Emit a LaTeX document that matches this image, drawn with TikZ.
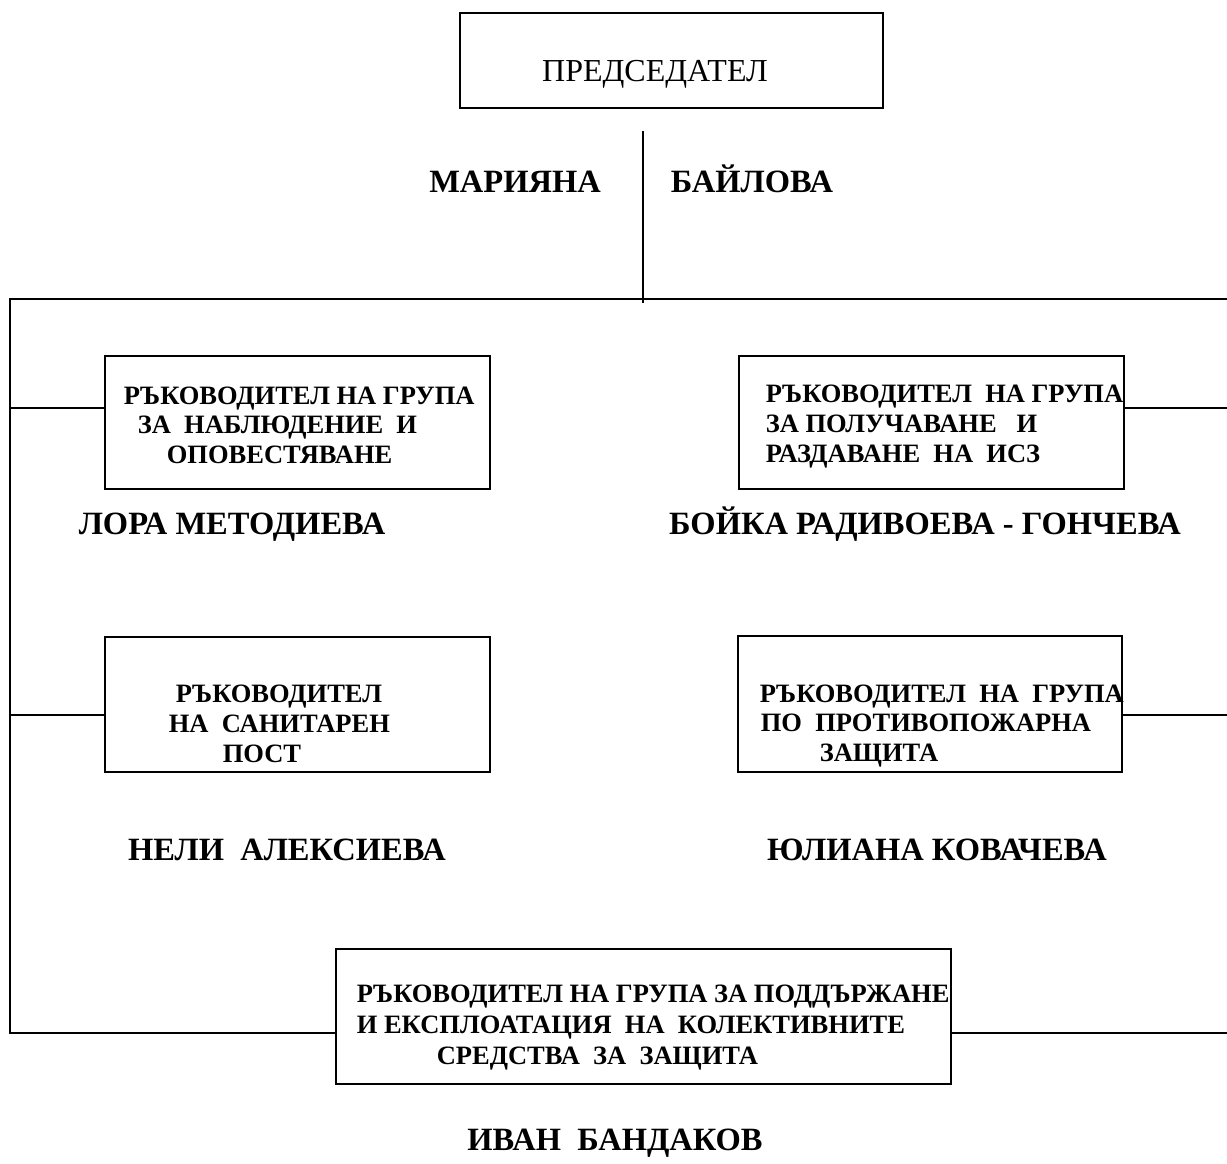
\documentclass[tikz,border=0pt]{standalone}
\usepackage{fontspec}
\setmainfont{Liberation Serif}[BoldFont={Liberation Serif Bold}]
\begin{document}
\begin{tikzpicture}[x=1pt,y=-1pt,
  line width=1.6pt,
  box/.style={draw, rectangle, inner sep=0pt, line width=1.8pt},
  boxtext/.style={anchor=base west, inner sep=0pt, font=\fontsize{26.5}{30}\selectfont\bfseries},
  nametext/.style={anchor=base, inner sep=0pt, font=\fontsize{32.5}{38}\selectfont\bfseries},
  chairtext/.style={anchor=base, inner sep=0pt, font=\fontsize{32}{38}\selectfont}]
\useasboundingbox (0,0) rectangle (1227,1163);
\fill[white] (0,0) rectangle (1227,1163);

% boxes
\node[box, minimum width=423pt, minimum height=95pt] (top) at (671.5,60.5) {};
\node[box, minimum width=385pt, minimum height=133pt] (b1) at (297.5,422.5) {};
\node[box, minimum width=385pt, minimum height=133pt] (b2) at (931.5,422.5) {};
\node[box, minimum width=385pt, minimum height=135pt] (b3) at (297.5,704.5) {};
\node[box, minimum width=384pt, minimum height=136pt] (b4) at (930,704) {};
\node[box, minimum width=615pt, minimum height=135pt] (b5) at (643.5,1016.5) {};

% texts
\node[chairtext] (tchair) at (655,81) {ПРЕДСЕДАТЕЛ};
\node[nametext] (n0a) at (515,192) {МАРИЯНА};
\node[nametext] (n0b) at (752,192) {БАЙЛОВА};

\node[boxtext] (b1l1) at (123,404) {РЪКОВОДИТЕЛ НА ГРУПА};
\node[boxtext] (b1l2) at (137,433) {ЗА~~НАБЛЮДЕНИЕ~~И};
\node[boxtext] (b1l3) at (166,463) {ОПОВЕСТЯВАНЕ};

\node[boxtext] (b2l1) at (765,402) {РЪКОВОДИТЕЛ~~НА ГРУПА};
\node[boxtext] (b2l2) at (765,432) {ЗА ПОЛУЧАВАНЕ~~~И};
\node[boxtext] (b2l3) at (765,462) {РАЗДАВАНЕ~~НА~~ИСЗ};

\node[boxtext] (b3l1) at (175,702) {РЪКОВОДИТЕЛ};
\node[boxtext] (b3l2) at (168,732) {НА~~САНИТАРЕН};
\node[boxtext] (b3l3) at (222,762) {ПОСТ};

\node[boxtext] (b4l1) at (759,702) {РЪКОВОДИТЕЛ~~НА~~ГРУПА};
\node[boxtext] (b4l2) at (760,731) {ПО~~ПРОТИВОПОЖАРНА};
\node[boxtext] (b4l3) at (819,761) {ЗАЩИТА};

\node[boxtext] (b5l1) at (356,1002) {РЪКОВОДИТЕЛ НА ГРУПА ЗА ПОДДЪРЖАНЕ};
\node[boxtext] (b5l2) at (356,1033) {И ЕКСПЛОАТАЦИЯ~~НА~~КОЛЕКТИВНИТЕ};
\node[boxtext] (b5l3) at (436,1064) {СРЕДСТВА~~ЗА~~ЗАЩИТА};

\node[nametext] (n1) at (232,534) {ЛОРА МЕТОДИЕВА};
\node[nametext] (n2) at (925,534) {БОЙКА РАДИВОЕВА - ГОНЧЕВА};
\node[nametext] (n3) at (287,860) {НЕЛИ~~АЛЕКСИЕВА};
\node[nametext] (n4) at (937,860) {ЮЛИАНА КОВАЧЕВА};
\node[nametext] (n5) at (615,1150) {ИВАН~~БАНДАКОВ};

% connector points
\coordinate (vt) at (643,131);
\coordinate (vb) at (643,303);
\coordinate (tl) at (10,299);
\coordinate (tr) at (1227,299);
\coordinate (bl) at (10,1033);
\coordinate (br) at (1227,1033);
\coordinate (j1) at (10,408);
\coordinate (r1) at (1227,408);
\coordinate (j3) at (10,715);
\coordinate (r4) at (1227,715);

% connectors
\draw (vt) -- (vb);
\draw (tr) -- (tl) -- (bl) -- (bl -| b5.west);
\draw (b5.east |- br) -- (br);
\draw (j1) -- (j1 -| b1.west);
\draw (b2.east |- r1) -- (r1);
\draw (j3) -- (j3 -| b3.west);
\draw (b4.east |- r4) -- (r4);
\end{tikzpicture}
\end{document}
